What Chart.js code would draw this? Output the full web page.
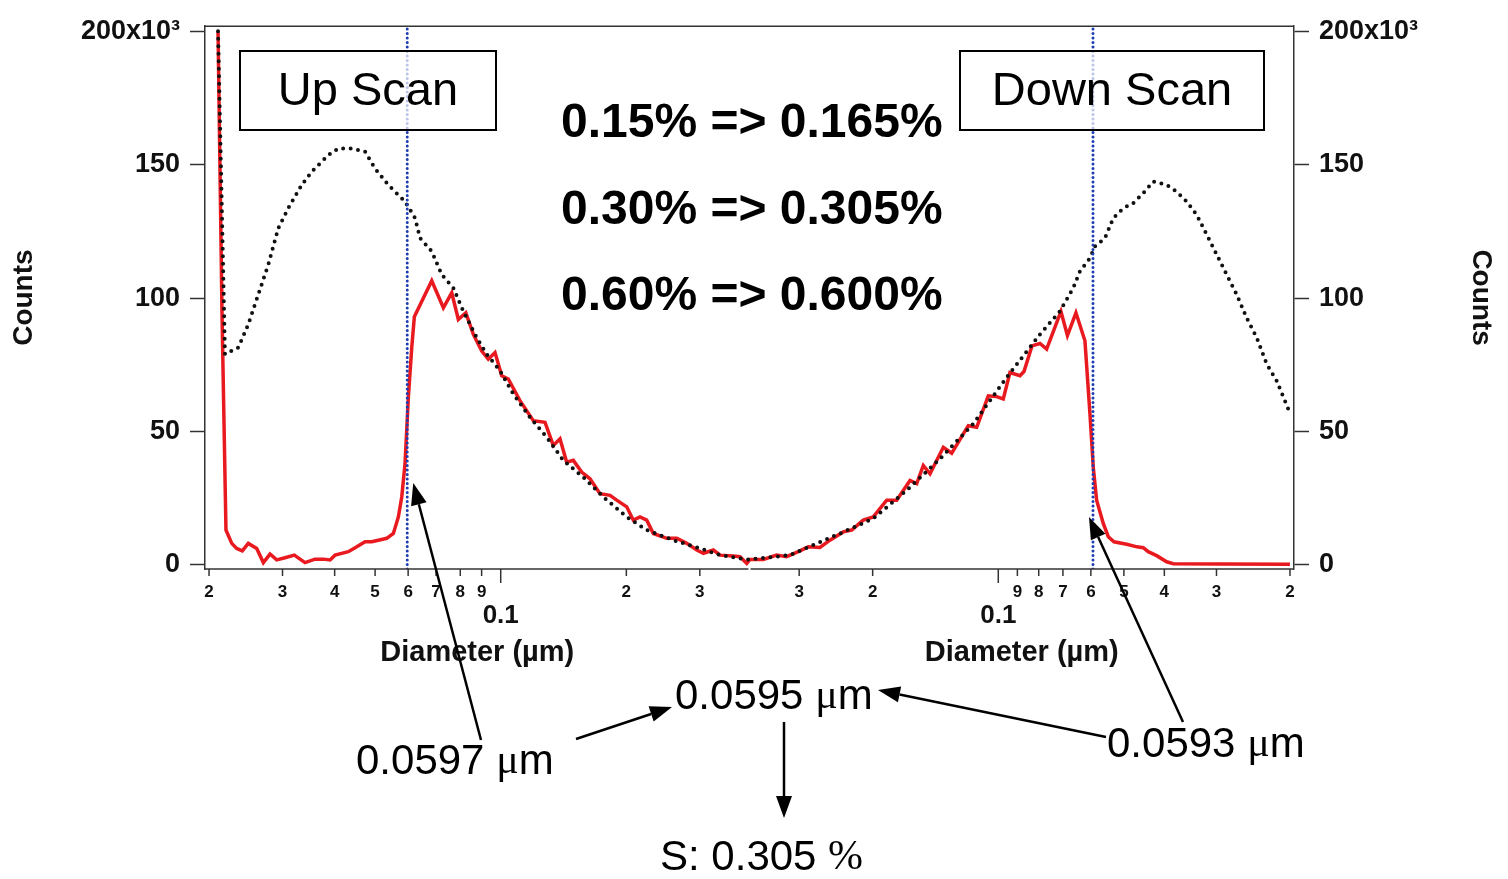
<!DOCTYPE html>
<html>
<head>
<meta charset="utf-8">
<title>Up / Down scan counts</title>
<script src="https://cdn.jsdelivr.net/npm/chart.js@4.4.1/dist/chart.umd.min.js"></script>
<style>
  html, body { margin: 0; padding: 0; background: #fff; }
  #wrap { position: relative; width: 1508px; height: 879px; }
</style>
</head>
<body>
<div id="wrap"><canvas id="scanChart"></canvas></div>
<script>
// up scan: measured counts (x10^3) against mobility diameter (um)
const upDiam = [0.02102, 0.02148, 0.02196, 0.02267, 0.02330, 0.02403, 0.02484, 0.02602, 0.02699, 0.02800,
  0.02905, 0.03041, 0.03202, 0.03397, 0.03589, 0.03758, 0.03900, 0.04009, 0.04314, 0.04519,
  0.04731, 0.04908, 0.05090, 0.05331, 0.05530, 0.05685, 0.05792, 0.05898, 0.06007, 0.06121,
  0.06209, 0.06835, 0.07287, 0.07632, 0.07915, 0.08249, 0.08598, 0.09006, 0.09339, 0.09691,
  0.10056, 0.10428, 0.11121, 0.11971, 0.12767, 0.13365, 0.13869, 0.14391, 0.14925, 0.15633,
  0.16365, 0.17295, 0.18277, 0.18967, 0.20044, 0.20785, 0.21567, 0.22381, 0.23211, 0.24998,
  0.26417, 0.27915, 0.29500, 0.30593, 0.32329, 0.33546, 0.36092, 0.37452, 0.38862];
const upCounts = [200, 95, 13.1, 8.1, 6.2, 5.3, 8.1, 6.2, 0.9, 4.1,
  1.9, 2.7, 3.7, 0.9, 2.2, 2.2, 1.9, 3.7, 5.0, 6.8,
  8.7, 8.7, 9.3, 10.0, 11.8, 18.0, 25.5, 38.0, 62.8, 81.5,
  93.0, 106.5, 96.4, 102.0, 92.0, 94.5, 86.4, 80.2, 77.1, 79.6,
  70.9, 69.7, 61.6, 54.1, 53.5, 44.8, 47.3, 38.5, 39.2, 34.8,
  32.3, 26.7, 26.1, 24.3, 21.8, 16.8, 18.0, 16.8, 11.8, 10.0,
  10.0, 8.1, 5.6, 4.4, 5.6, 3.7, 3.4, 3.1, 0.6];

// down scan, in scan order (large to small)
const downDiam = [0.39365, 0.36571, 0.33973, 0.32150, 0.30147, 0.28529, 0.26757, 0.25315, 0.23521, 0.22455,
  0.21064, 0.19934, 0.18511, 0.17516, 0.16275, 0.15684, 0.15123, 0.14574, 0.13543, 0.12930,
  0.11800, 0.11265, 0.10567, 0.10089, 0.09728, 0.09376, 0.08872, 0.08678, 0.08303, 0.07946,
  0.07658, 0.07077, 0.06828, 0.06515, 0.06199, 0.06030, 0.05921, 0.05812, 0.05603, 0.05450,
  0.05281, 0.04924, 0.04652, 0.04494, 0.04372, 0.04174, 0.03949, 0.03808, 0.02943, 0.02000];
const downCounts = [2.1, 2.1, 3.7, 3.1, 5.0, 6.8, 6.6, 9.3, 12.4, 13.1,
  16.8, 18.0, 24.3, 24.3, 31.7, 30.5, 37.3, 34.2, 44.1, 41.9,
  52.2, 51.6, 63.4, 63.1, 62.2, 72.1, 70.9, 72.5, 82.1, 83.0,
  80.9, 95.0, 86.0, 94.5, 84.0, 56.6, 36.7, 24.3, 15.6, 10.6,
  8.7, 7.8, 6.8, 6.5, 5.0, 3.5, 1.2, 0.5, 0.4, 0.3];

// total particle counts (dotted trace)
const upTotalDiam = [0.02102, 0.02184, 0.02351, 0.02484, 0.02625, 0.02774, 0.02931, 0.03097, 0.03335, 0.03525,
  0.03863, 0.04082, 0.04396, 0.04731, 0.04998, 0.05378, 0.05898, 0.06233, 0.06408, 0.06835,
  0.07223, 0.07700, 0.08136, 0.08760, 0.09257, 0.09962, 0.10720, 0.11754, 0.12888, 0.14124,
  0.15771, 0.17613, 0.20044, 0.22381, 0.25926, 0.30032, 0.33546, 0.38862];
const upTotal = [200, 79.0, 81.5, 90.2, 101.4, 112.6, 126.2, 133.7, 142.4, 147.4,
  153.6, 156.1, 156.1, 154.9, 148.6, 142.4, 136.2, 130.0, 122.5, 117.5,
  108.8, 103.8, 95.1, 85.2, 79.0, 72.8, 64.1, 55.3, 47.9, 39.2,
  32.9, 25.5, 18.0, 13.1, 9.3, 6.2, 3.7, 2.1];
const downTotalDiam = [0.39365, 0.31569, 0.23953, 0.19934, 0.16574, 0.13793, 0.11478, 0.09548, 0.07946, 0.07116,
  0.06612, 0.06373, 0.06030, 0.05866, 0.05551, 0.05302, 0.05017, 0.04749, 0.04494, 0.04252,
  0.03949, 0.03737, 0.03536, 0.03346, 0.03166, 0.02996, 0.02836, 0.02684, 0.02540, 0.02403,
  0.02274, 0.02152, 0.02019];
const downTotal = [2.1, 3.7, 11.8, 17.4, 28.0, 39.8, 52.9, 70.3, 86.4, 95.1,
  103.8, 110.1, 115.0, 119.4, 122.5, 130.0, 133.7, 135.6, 139.3, 143.7,
  142.4, 139.9, 136.2, 131.2, 123.8, 116.3, 108.8, 101.4, 92.6, 85.2,
  75.3, 69.0, 58.5];

// activation cut diameters: up scan, down scan, mean
const cutDiam = [0.0597, 0.0593];
const cutMean = 0.0595;
const cutSS = '0.305';

const countTicks = [0, 50, 100, 150, 200];
const diamTicks = [0.02, 0.03, 0.04, 0.05, 0.06, 0.07, 0.08, 0.09, 0.1, 0.2, 0.3];
const diamTickLabels = ['2', '3', '4', '5', '6', '7', '8', '9', '0.1', '2', '3'];
const ssLines = ['0.15% => 0.165%', '0.30% => 0.305%', '0.60% => 0.600%'];

// the x axis is log10(diameter); the down scan is mirrored about the turn point
const D_MIN = 0.01956;
const D_TURN = 0.3946;
const HALF = Math.log10(D_TURN / D_MIN);
const upPos = d => Math.log10(d / D_MIN);
const downPos = d => 2 * HALF - Math.log10(d / D_MIN);
const Y_MIN = -1.5, Y_MAX = 201.9;

const SANS = "'Liberation Sans', Arial, Helvetica, sans-serif";
const SERIF = "'Liberation Serif', 'Times New Roman', serif";
const AXIS = '#333';
Chart.defaults.font.family = SANS;
Chart.defaults.color = '#111';

const countsTrace = upDiam.map((d, i) => ({ x: upPos(d), y: upCounts[i] }))
  .concat(downDiam.map((d, i) => ({ x: downPos(d), y: downCounts[i] })));
const totalTrace = upTotalDiam.map((d, i) => ({ x: upPos(d), y: upTotal[i] }))
  .concat(downTotalDiam.map((d, i) => ({ x: downPos(d), y: downTotal[i] })));
const cutLine = pos => [{ x: pos, y: Y_MIN }, { x: pos, y: Y_MAX }];

function line(ctx, x1, y1, x2, y2) {
  ctx.beginPath();
  ctx.moveTo(x1, y1);
  ctx.lineTo(x2, y2);
  ctx.stroke();
}

function arrow(ctx, x1, y1, x2, y2) {
  const a = Math.atan2(y2 - y1, x2 - x1);
  const hl = 22, hw = 8;
  const bx = x2 - hl * Math.cos(a), by = y2 - hl * Math.sin(a);
  line(ctx, x1, y1, bx, by);
  ctx.beginPath();
  ctx.moveTo(x2, y2);
  ctx.lineTo(bx + hw * Math.sin(a), by - hw * Math.cos(a));
  ctx.lineTo(bx - hw * Math.sin(a), by + hw * Math.cos(a));
  ctx.closePath();
  ctx.fill();
}

// text made of runs in different fonts, left aligned, vertically centred
function runs(ctx, x, y, parts) {
  ctx.textAlign = 'left';
  ctx.textBaseline = 'middle';
  parts.forEach(([t, f]) => {
    ctx.font = f;
    ctx.fillText(t, x, y);
    x += ctx.measureText(t).width;
  });
}

const decor = {
  id: 'decor',
  afterDraw(chart) {
    const { ctx, chartArea: a, scales: { x } } = chart;
    const xc = x.getPixelForValue(HALF);
    ctx.save();

    // frame top and the split bottom axis
    ctx.strokeStyle = AXIS;
    ctx.lineWidth = 1.5;
    line(ctx, a.left, a.top, a.right, a.top);
    line(ctx, a.left, a.bottom, xc - 1, a.bottom);
    line(ctx, xc + 1, a.bottom, a.right, a.bottom);

    // diameter ticks for both halves
    ctx.fillStyle = '#111';
    ctx.textAlign = 'center';
    ctx.textBaseline = 'middle';
    [upPos, downPos].forEach(pos => {
      diamTicks.forEach((d, i) => {
        const px = x.getPixelForValue(pos(d));
        const major = diamTickLabels[i] === '0.1';
        line(ctx, px, a.bottom, px, a.bottom + (major ? 14 : 7));
        if (major) {
          ctx.font = 'bold 26px ' + SANS;
          ctx.fillText(diamTickLabels[i], px, a.bottom + 47);
        } else {
          ctx.font = 'bold 17px ' + SANS;
          ctx.fillText(diamTickLabels[i], px, a.bottom + 23);
        }
      });
    });
    ctx.font = 'bold 29px ' + SANS;
    ctx.fillText('Diameter (\u00b5m)', (a.left + xc) / 2, a.bottom + 84);
    ctx.fillText('Diameter (\u00b5m)', (xc + a.right) / 2, a.bottom + 84);

    // scan direction boxes
    ctx.lineWidth = 2;
    ctx.strokeStyle = '#000';
    [['Up Scan', 240, 51, 256, 79], ['Down Scan', 960, 51, 304, 79]].forEach(([t, bx, by, bw, bh]) => {
      ctx.fillStyle = 'rgba(255,255,255,0.7)';
      ctx.fillRect(bx, by, bw, bh);
      ctx.strokeRect(bx, by, bw, bh);
      ctx.fillStyle = '#000';
      ctx.font = '47px ' + SANS;
      ctx.fillText(t, bx + bw / 2, by + bh / 2 + 2);
    });

    // supersaturation set point => measured
    ctx.font = 'bold 48px ' + SANS;
    ctx.textAlign = 'left';
    ssLines.forEach((t, i) => ctx.fillText(t, 561, 124 + i * 86.5));

    // cut diameter callouts
    const upX = x.getPixelForValue(upPos(cutDiam[0]));
    const downX = x.getPixelForValue(downPos(cutDiam[1]));
    const big = '42px ' + SANS, mu = '42px ' + SERIF;
    runs(ctx, 356, 762, [[cutDiam[0].toFixed(4) + ' ', big], ['\u03bc', mu], ['m', big]]);
    runs(ctx, 675, 697, [[cutMean.toFixed(4) + ' ', big], ['\u03bc', mu], ['m', big]]);
    runs(ctx, 1107, 745, [[cutDiam[1].toFixed(4) + ' ', big], ['\u03bc', mu], ['m', big]]);
    runs(ctx, 660, 858, [['S: ' + cutSS + ' ', big], ['%', mu]]);

    ctx.strokeStyle = '#000';
    ctx.fillStyle = '#000';
    ctx.lineWidth = 2.5;
    arrow(ctx, 481, 740, upX + 6, 483);
    arrow(ctx, 1183, 722, downX - 4, 517);
    arrow(ctx, 576, 739, 672, 707);
    arrow(ctx, 1106, 737, 878, 690);
    arrow(ctx, 784, 722, 784, 818);
    ctx.restore();
  }
};

function countAxis(position, width, titlePad) {
  return {
    type: 'linear',
    position,
    min: Y_MIN,
    max: Y_MAX,
    afterBuildTicks: s => { s.ticks = countTicks.map(v => ({ value: v })); },
    afterFit: s => { s.width = width; },
    grid: { drawOnChartArea: false, drawTicks: true, tickLength: 15, tickColor: AXIS, tickWidth: 1.5 },
    border: { display: true, color: AXIS, width: 1.5 },
    ticks: {
      padding: 10,
      color: '#111',
      font: { size: 27, weight: 'bold' },
      callback: v => (v === 200 ? '200x10\u00b3' : String(v))
    },
    title: {
      display: true,
      text: 'Counts',
      color: '#111',
      font: { size: 28, weight: 'bold' },
      padding: { top: titlePad, bottom: 0 }
    }
  };
}

new Chart(document.getElementById('scanChart'), {
  type: 'line',
  data: {
    datasets: [
      { data: cutLine(upPos(cutDiam[0])), borderColor: '#1c3cb4', borderWidth: 3, borderDash: [0, 4.5], borderCapStyle: 'round', pointRadius: 0, order: 0 },
      { data: cutLine(downPos(cutDiam[1])), borderColor: '#1c3cb4', borderWidth: 3, borderDash: [0, 4.5], borderCapStyle: 'round', pointRadius: 0, order: 0 },
      { label: 'Total', data: totalTrace, borderColor: '#111', borderWidth: 4, borderDash: [0, 7.5], borderCapStyle: 'round', pointRadius: 0, order: 1 },
      { label: 'Counts', data: countsTrace, borderColor: '#e8191f', borderWidth: 3.5, pointRadius: 0, order: 2 }
    ]
  },
  options: {
    responsive: true,
    maintainAspectRatio: false,
    animation: false,
    layout: { padding: { top: 24, bottom: 310, left: 0, right: 0 } },
    plugins: { legend: { display: false }, tooltip: { enabled: false } },
    elements: { line: { tension: 0 } },
    scales: {
      x: { type: 'linear', display: false, min: 0, max: 2 * HALF },
      y: countAxis('left', 205, 7),
      y2: countAxis('right', 214, 10)
    }
  },
  plugins: [decor]
});
</script>
</body>
</html>
